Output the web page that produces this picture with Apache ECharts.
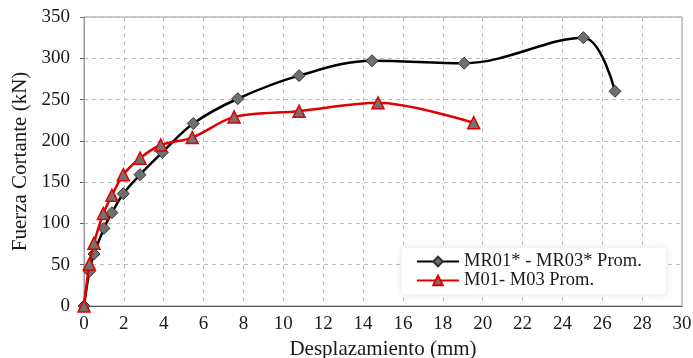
<!DOCTYPE html>
<html>
<head>
<meta charset="utf-8">
<script src="https://cdn.jsdelivr.net/npm/echarts@6/dist/echarts.min.js"></script>
<style>
  html, body { margin: 0; padding: 0; background: #fff; }
  #chart { width: 693px; height: 358px; }
</style>
</head>
<body>
<div id="chart"></div>
<script>
// ===== Data =====
const mrX = [0, 0.27, 0.5, 1.0, 1.4, 1.97, 2.81, 3.93, 5.48, 7.71, 10.79, 14.45, 19.07, 25.05, 26.64];
const mrY = [0, 42, 63, 94, 113, 136, 159, 186, 221, 251, 279, 297, 294, 325, 260];
const mX = [0, 0.27, 0.5, 0.97, 1.4, 1.97, 2.81, 3.85, 5.43, 7.53, 10.79, 14.75, 19.55];
const mY = [0, 51, 76, 112, 134, 159, 179, 195, 204, 229, 236, 246, 222];
const seriesNames = ['MR01* - MR03* Prom.', 'M01- M03 Prom.'];

const serif = '"Liberation Serif", "DejaVu Serif", serif';
const pair = (xs, ys) => xs.map((x, i) => [x, ys[i]]);

document.addEventListener('DOMContentLoaded', () => {
  const chart = echarts.init(document.getElementById('chart'), null, { renderer: 'canvas' });
  chart.setOption({
    animation: false,
    grid: {
      left: 84, right: 11, top: 17, bottom: 52,
      outerBoundsMode: 'none', containLabel: false,
      show: true, borderColor: '#999', borderWidth: 1
    },
    xAxis: {
      type: 'value', min: 0, max: 30, interval: 2,
      name: 'Desplazamiento (mm)', nameLocation: 'middle', nameGap: 29,
      nameTextStyle: { fontFamily: serif, fontSize: 21, color: '#1a1a1a' },
      axisLine: { show: true, lineStyle: { color: '#555', width: 1 } },
      axisTick: { show: false },
      axisLabel: { fontFamily: serif, fontSize: 19, color: '#1a1a1a', margin: 9 },
      splitLine: { show: true, lineStyle: { type: [4, 4], color: '#bcbcbc', width: 1 } }
    },
    yAxis: {
      type: 'value', min: 0, max: 350, interval: 50,
      name: 'Fuerza Cortante (kN)', nameLocation: 'middle', nameGap: 49, nameRotate: 90,
      nameTextStyle: { fontFamily: serif, fontSize: 21, color: '#1a1a1a' },
      axisLine: { show: true, lineStyle: { color: '#999', width: 1 } },
      axisTick: { show: true, inside: false, length: 4, lineStyle: { color: '#666' } },
      axisLabel: { fontFamily: serif, fontSize: 19, color: '#1a1a1a', margin: 14 },
      splitLine: { show: true, lineStyle: { type: [4, 4], color: '#bcbcbc', width: 1 } }
    },
    legend: {
      orient: 'vertical', left: 402, top: 248,
      itemWidth: 42, itemHeight: 12, itemGap: 0,
      padding: [4, 24, 4, 14],
      backgroundColor: '#fff',
      shadowColor: 'rgba(0,0,0,0.12)', shadowBlur: 8,
      textStyle: { fontFamily: serif, fontSize: 18.5, color: '#1a1a1a' },
      data: seriesNames
    },
    series: [
      {
        name: seriesNames[0], type: 'line', smooth: 0.35,
        data: pair(mrX, mrY),
        symbol: 'diamond', symbolSize: 12,
        lineStyle: { color: '#000', width: 2.5 },
        itemStyle: { color: '#6f6f6f', borderColor: '#333', borderWidth: 1 },
        z: 3
      },
      {
        name: seriesNames[1], type: 'line', smooth: 0.3,
        data: pair(mX, mY),
        symbol: 'triangle', symbolSize: 12,
        lineStyle: { color: '#e00000', width: 2.5 },
        itemStyle: { color: '#727272', borderColor: '#e00000', borderWidth: 1.5 },
        z: 4
      }
    ]
  });
});
</script>
</body>
</html>
